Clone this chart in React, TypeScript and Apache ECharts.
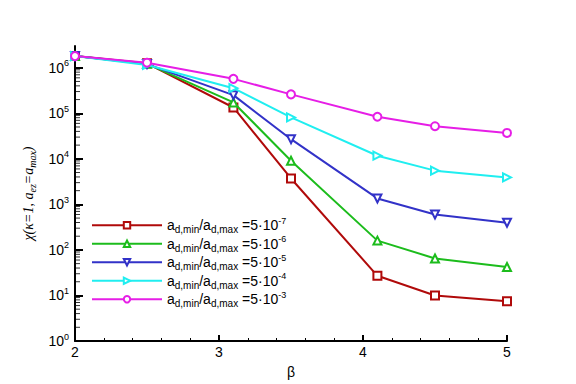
import React, { useEffect, useRef } from "react";
import * as echarts from "echarts";

const betas = [2, 2.5, 3.1, 3.5, 4.1, 4.5, 5];
const redVals = [1.8e6, 1.25e6, 1.34e5, 3.7e3, 27, 10, 7.5];
const greenVals = [1.8e6, 1.22e6, 1.73e5, 9.1e3, 160, 65, 42];
const blueVals = [1.8e6, 1.2e6, 2.5e5, 2.7e4, 1.35e3, 600, 395];
const cyanVals = [1.8e6, 1.15e6, 3.55e5, 8.1e4, 1.17e4, 5.5e3, 3.9e3];
const magentaVals = [1.8e6, 1.29e6, 5.7e5, 2.6e5, 8.4e4, 5.2e4, 3.7e4];
const exponents = ["-7", "-6", "-5", "-4", "-3"];
const seriesNames = ["r7", "r6", "r5", "r4", "r3"];

const colors = ["#b00a0a", "#1cbc1c", "#3232c8", "#20eef0", "#e61ee6"];
const symbols = ["emptyRect", "emptyTriangle", "emptyTriangle", "emptyTriangle", "emptyCircle"];
const rotations = [0, 0, 180, -90, 0];

const minorTickVals: number[] = [];
for (let k = 0; k <= 6; k++) {
  for (let m = 2; m <= 9; m++) {
    const v = m * Math.pow(10, k);
    if (v < 3e6) minorTickVals.push(v);
  }
}

export default function App() {
  const ref = useRef<HTMLDivElement>(null);
  useEffect(() => {
    const chart = echarts.init(ref.current!, null, { renderer: "svg" });
    const all = [redVals, greenVals, blueVals, cyanVals, magentaVals];
    const font = "Liberation Sans";
    const lineSeries = all.map((vals, i) => ({
      name: seriesNames[i],
      type: "line",
      data: betas.map((b, j) => [b, vals[j]]),
      symbol: symbols[i],
      symbolSize: 8,
      symbolRotate: rotations[i],
      lineStyle: { color: colors[i], width: 2 },
      itemStyle: { color: colors[i], borderWidth: 2 },
      z: 3 + i,
    }));
    const option: any = {
      animation: false,
      grid: { left: 75, right: 69, top: 46, bottom: 42 },
      legend: {
        data: seriesNames,
        orient: "vertical",
        left: 86,
        top: 211,
        itemWidth: 70,
        itemHeight: 8,
        itemGap: 0,
        formatter: (name: string) => {
          const i = seriesNames.indexOf(name);
          return `{b|a}{s|d,min}{b|/a}{s|d,max}{b| =5·10}{p|${exponents[i]}}`;
        },
        textStyle: {
          fontFamily: font,
          color: "#000",
          rich: {
            b: { fontSize: 14, fontFamily: font, lineHeight: 18.5, color: "#000" },
            s: { fontSize: 10, fontFamily: font, verticalAlign: "bottom", color: "#000" },
            p: { fontSize: 9, fontFamily: font, verticalAlign: "top", color: "#000" },
          },
        },
      },
      xAxis: {
        type: "value",
        min: 2,
        max: 5,
        interval: 1,
        name: "β",
        nameLocation: "middle",
        nameGap: 24,
        nameTextStyle: { fontFamily: font, fontSize: 14, color: "#000" },
        axisLine: { lineStyle: { color: "#000", width: 2 } },
        axisTick: { inside: true, length: 6, lineStyle: { color: "#000", width: 2 } },
        minorTick: { show: true, splitNumber: 5, length: 3, lineStyle: { color: "#000", width: 1 } },
        axisLabel: { fontFamily: font, fontSize: 14, color: "#000", margin: 4 },
        splitLine: { show: false },
      },
      yAxis: {
        type: "log",
        logBase: 10,
        min: 1,
        max: 3e6,
        name: "{t|χ(κ=1, a}{s|ez}{t|=a}{s|max}{t|)}",
        nameLocation: "middle",
        nameRotate: 90,
        nameGap: 30,
        nameTextStyle: {
          color: "#000",
          rich: {
            t: { fontFamily: "Liberation Serif", fontStyle: "italic", fontSize: 14, lineHeight: 18, color: "#000" },
            s: { fontFamily: "Liberation Serif", fontStyle: "italic", fontSize: 10, verticalAlign: "bottom", color: "#000" },
          },
        },
        axisLine: { show: true, lineStyle: { color: "#000", width: 2 } },
        axisTick: { inside: true, length: 8, lineStyle: { color: "#000", width: 2 } },
        splitLine: { show: false },
        axisLabel: {
          showMaxLabel: false,
          margin: 6,
          formatter: (v: number) => {
            const n = Math.round(Math.log10(v));
            return `{b|10}{p|${n}}`;
          },
          rich: {
            b: { fontFamily: font, fontSize: 14, lineHeight: 18, color: "#000" },
            p: { fontFamily: font, fontSize: 9, verticalAlign: "top", color: "#000" },
          },
        },
      },
      series: [
        {
          type: "scatter",
          name: "minorTicks",
          silent: true,
          clip: false,
          symbol: "rect",
          symbolSize: [5, 1],
          symbolOffset: [2.5, 0],
          itemStyle: { color: "#000" },
          data: minorTickVals.map((v) => [2, v]),
          z: 2,
        },
        ...lineSeries,
      ],
    };
    chart.setOption(option);
    return () => chart.dispose();
  }, []);
  return <div ref={ref} style={{ position: "absolute", left: 0, top: 0, width: 576, height: 384 }} />;
}
